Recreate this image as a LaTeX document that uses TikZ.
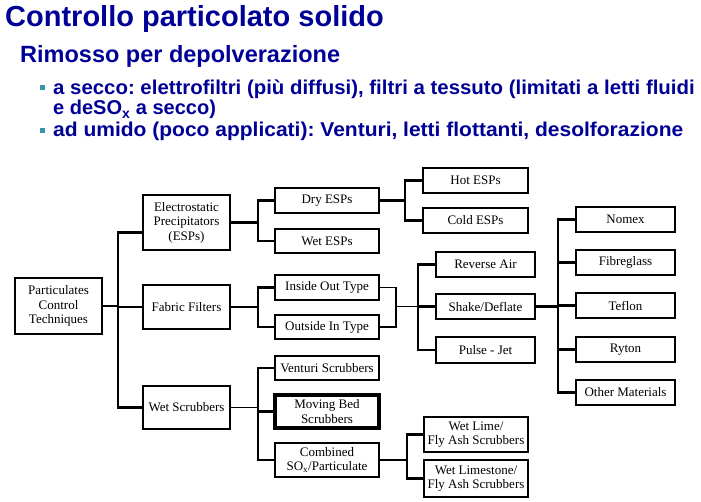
\documentclass[tikz,border=0pt]{standalone}
\usepackage{fontspec}
\setmainfont{Liberation Serif}
\newfontfamily\hdfont{Liberation Sans}
\frenchspacing
\definecolor{navy}{RGB}{0,0,150}
\definecolor{bullet}{RGB}{51,153,170}
\tikzset{
  box/.style={draw, line width=2.4pt, fill=white, align=center, inner sep=0pt,
    font=\fontsize{13}{14.5}\selectfont},
  conn/.style={line width=2.5pt},
  thinconn/.style={line width=1.3pt},
  head/.style={anchor=base west, inner sep=0pt, text=navy, font=\hdfont\bfseries},
  bultext/.style={head, font=\hdfont\bfseries\fontsize{20}{22}\selectfont},
  bul/.style={fill=bullet, minimum size=5pt, inner sep=0pt}
}
\begin{document}
\begin{tikzpicture}[x=1pt,y=-1pt]
\useasboundingbox (0,0) rectangle (701,502);
% headings
\node[head, font=\hdfont\bfseries\fontsize{29}{32}\selectfont] (title) at (5,27) {Controllo particolato solido};
\node[head, font=\hdfont\bfseries\fontsize{23.5}{26}\selectfont] (sub) at (20,63) {Rimosso per depolverazione};
\node[bul] (b1) at (42.5,87.5) {};
\node[bultext] (l1) at (53,95) {\scalebox{1.02}[1]{a secco: elettrofiltri (più diffusi), filtri a tessuto (limitati a letti fluidi}};
\node[bultext] (l2) at (53,115) {e deSO\textsubscript{x} a secco)};
\node[bul] (b2) at (42.5,130.5) {};
\node[bultext] (l3) at (53,137) {\scalebox{1.05}[1]{ad umido (poco applicati): Venturi, letti flottanti, desolforazione}};
% level 0/1
\node[box, minimum width=87pt, minimum height=56pt] (pct) at (58.5,306) {Particulates\\Control\\Techniques};
\node[box, minimum width=87pt, minimum height=55pt] (esp) at (186.5,222.5) {Electrostatic\\Precipitators\\(ESPs)};
\node[box, minimum width=87pt, minimum height=44pt] (ff) at (186.5,307) {Fabric Filters};
\node[box, minimum width=87pt, minimum height=43pt] (ws) at (186.5,407.5) {Wet Scrubbers};
% ESP branch
\node[box, minimum width=104pt, minimum height=25pt] (dry) at (327,200.5) {Dry ESPs};
\node[box, minimum width=104pt, minimum height=24pt] (wetesp) at (327,241) {Wet ESPs};
\node[box, minimum width=105pt, minimum height=25pt] (hot) at (475.5,180.5) {Hot ESPs};
\node[box, minimum width=105pt, minimum height=25pt] (cold) at (475.5,220.5) {Cold ESPs};
% FF branch
\node[box, minimum width=104pt, minimum height=25pt] (inout) at (327,287.5) {Inside Out Type};
\node[box, minimum width=104pt, minimum height=24pt] (outin) at (327,327) {Outside In Type};
\node[box, minimum width=99pt, minimum height=25pt] (rev) at (485.5,264.5) {Reverse Air};
\node[box, minimum width=99pt, minimum height=25pt] (shake) at (485.5,306.5) {Shake/Deflate};
\node[box, minimum width=99pt, minimum height=26pt] (pulse) at (485.5,350) {Pulse - Jet};
\node[box, minimum width=99pt, minimum height=25pt] (nomex) at (625.5,219.5) {Nomex};
\node[box, minimum width=99pt, minimum height=25pt] (fibre) at (625.5,262.5) {Fibreglass};
\node[box, minimum width=99pt, minimum height=25pt] (teflon) at (625.5,305.5) {Teflon};
\node[box, minimum width=99pt, minimum height=25pt] (ryton) at (625.5,349.5) {Ryton};
\node[box, minimum width=99pt, minimum height=25pt] (other) at (625.5,392.5) {Other Materials};
% WS branch
\node[box, minimum width=104pt, minimum height=24pt] (venturi) at (327,368) {Venturi Scrubbers};
\node[box, line width=3.2pt, minimum width=104pt, minimum height=33pt] (moving) at (327,411.5) {Moving Bed\\Scrubbers};
\node[box, minimum width=104pt, minimum height=34pt] (comb) at (327,460) {Combined\\SO\textsubscript{x}/Particulate};
\node[box, minimum width=104pt, minimum height=35pt] (lime) at (476,434.5) {Wet Lime/\\Fly Ash Scrubbers};
\node[box, minimum width=104pt, minimum height=37pt] (limestone) at (476,478.5) {Wet Limestone/\\Fly Ash Scrubbers};
% trunk coordinates
\coordinate (t1) at (118,0);
\coordinate (t2) at (258,0);
\coordinate (t3) at (405,0);
\coordinate (t4) at (396,0);
\coordinate (t5) at (418,0);
\coordinate (t6) at (558,0);
\coordinate (t7) at (407,0);
% connectors level 1
\draw[conn] ([yshift=-10pt]esp.west) -| (t1 |- ws.west) -- (ws.west);
\draw[conn] (pct.east) -- (pct.east -| t1);
\draw[conn] (ff.west) -- (ff.west -| t1);
% ESP
\draw[conn] (esp.east) -- (esp.east -| t2);
\draw[conn] (dry.west) -| (t2 |- wetesp.west) -- (wetesp.west);
\draw[conn] (dry.east) -- (dry.east -| t3);
\draw[conn] (hot.west) -| (t3 |- cold.west) -- (cold.west);
% FF
\draw[conn] (ff.east) -- (ff.east -| t2);
\draw[conn] (inout.west) -| (t2 |- outin.west) -- (outin.west);
\draw[thinconn] (inout.east) -| (t4 |- outin.east) -- (outin.east);
\draw[thinconn] (t4 |- shake.west) -- (t5 |- shake.west);
\draw[conn] (rev.west) -| (t5 |- pulse.west) -- (pulse.west);
\draw[conn] (shake.west) -- (t5 |- shake.west);
\draw[conn] (shake.east) -- (shake.east -| t6);
\draw[conn] (nomex.west) -| (t6 |- other.west) -- (other.west);
\draw[conn] (fibre.west) -- (fibre.west -| t6);
\draw[conn] (teflon.west) -- (teflon.west -| t6);
\draw[conn] (ryton.west) -- (ryton.west -| t6);
% WS
\draw[thinconn] (ws.east) -- (ws.east -| t2);
\draw[conn] (venturi.west) -| (t2 |- comb.west) -- (comb.west);
\draw[conn] (moving.west) -- (moving.west -| t2);
\draw[thinconn] (comb.east) -- (comb.east -| t7);
\draw[conn] (lime.west) -| (t7 |- limestone.west) -- (limestone.west);
\end{tikzpicture}
\end{document}
